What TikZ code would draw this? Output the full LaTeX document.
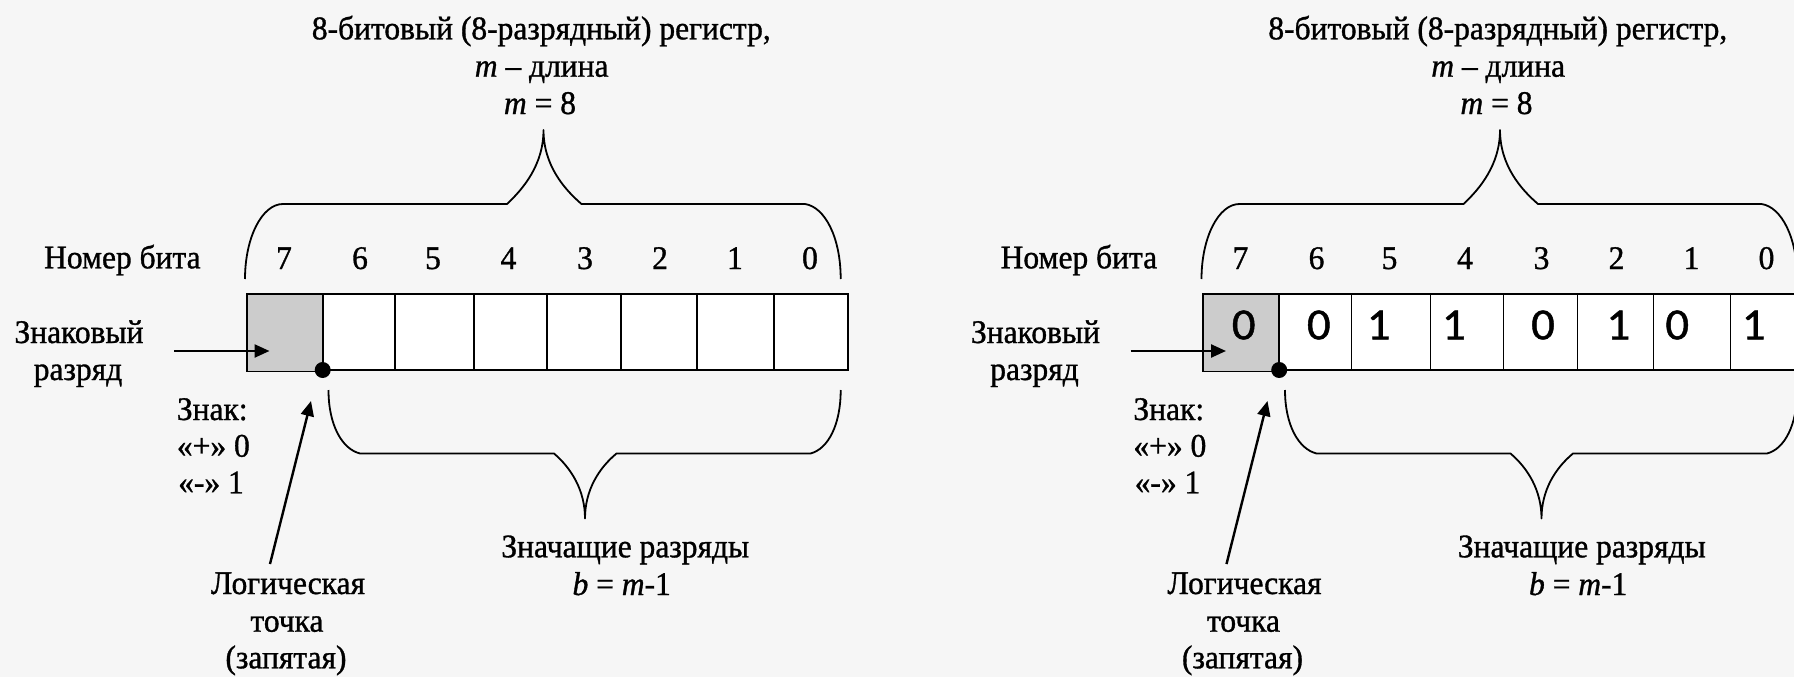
\documentclass[tikz,border=0pt]{standalone}
\usepackage{fontspec}
\setmainfont[FakeBold=1,FakeStretch=0.955]{Liberation Serif}
\newfontfamily\digitfont[FakeStretch=1.05,FakeBold=1]{Carlito}
\usetikzlibrary{arrows.meta}
\definecolor{bgpaper}{RGB}{246,246,246}
\definecolor{signfill}{RGB}{204,204,204}

\tikzset{
  lbl/.style={anchor=base, inner sep=0pt, font=\fontsize{33}{38}\selectfont},
  lblw/.style={lbl, anchor=base west},
  cellbox/.style={draw, line width=1.8pt, fill=white},
  signbox/.style={draw, line width=1.8pt, fill=signfill},
  brace/.style={line width=1.8pt, line join=round},
  pointer/.style={line width=2.4pt, -{Triangle[length=15pt,width=13pt]}},
  dotmark/.style={circle, fill=black, inner sep=0pt, minimum size=16pt},
  bitval/.style={anchor=base, inner sep=0pt, font=\digitfont\fontsize{44.5}{52}\selectfont},
}

% One complete register figure; #1 is the prefix of its node names
\newcommand\regdiagram[1]{%
  % heading
  \node[lbl] (#1t1) at (541.3,39.3) {8-битовый (8-разрядный) регистр,};
  \node[lbl] (#1t2) at (541.7,76.7) {\textit{m} – длина};
  \node[lbl] (#1t3) at (540,114) {\textit{m} = 8};
  % upper brace over the whole register
  \draw[brace] (245,279) .. controls (245,237.6) and (262,204) .. (283,204)
     -- (507,204) .. controls (523,189) and (543.5,165) .. (543.5,130)
     .. controls (543.5,165) and (564,189) .. (581.5,204)
     -- (805,204) .. controls (825,207) and (840.7,237.6) .. (840.7,279);
  % bit numbers
  \node[lbl] (#1bitno) at (122.4,268.3) {Номер бита};
  \foreach \n/\x in {7/284,6/360,5/433,4/508.5,3/585,2/660,1/735,0/810}
    \node[lbl] (#1b\n) at (\x,269) {\n};
  % register cells
  \path[signbox] (246.7,294) rectangle (322.7,371.5);
  \foreach \a/\b in {322.7/395,395/474,474/547,547/621,621/697,697/774,774/848}
    \path[cellbox] (\a,294) rectangle (\b,370);
  \node[dotmark] (#1pt) at (322.7,370) {};
  % sign bit
  \node[lbl] (#1sg1) at (79,343) {Знаковый};
  \node[lbl] (#1sg2) at (78,380) {разряд};
  \coordinate (#1sgTail) at (174,351);
  \coordinate (#1sgTip) at (269.5,351);
  \draw[pointer] (#1sgTail) -- (#1sgTip);
  \node[lblw] (#1k1) at (176.7,420) {Знак:};
  \node[lblw] (#1k2) at (176.7,456.7) {«+» 0};
  \node[lblw] (#1k3) at (178,493.3) {«-» 1};
  % logical point
  \node[lbl] (#1lp1) at (288,594) {Логическая};
  \node[lbl] (#1lp2) at (287,631.7) {точка};
  \node[lbl] (#1lp3) at (286,668.3) {(запятая)};
  \coordinate (#1lpTail) at (270,564);
  \coordinate (#1lpTip) at (311,401);
  \draw[pointer] (#1lpTail) -- (#1lpTip);
  % lower brace over the significant bits
  \draw[brace] (328.5,390) .. controls (328.5,425) and (342,449) .. (360,453.5)
     -- (554,453.5) .. controls (571,468) and (585,490) .. (585,518.5)
     .. controls (585,490) and (599,468) .. (616.5,453.5)
     -- (810.5,453.5) .. controls (828,449) and (840.7,425) .. (840.7,390);
  \node[lbl] (#1sv1) at (625.3,557.3) {Значащие разряды};
  \node[lbl] (#1sv2) at (621.7,595) {\textit{b} = \textit{m}-1};
}

\begin{document}
\begin{tikzpicture}[x=1pt,y=-1pt]
  \useasboundingbox (0,0) rectangle (1794,677);
  \fill[bgpaper] (0,0) rectangle (1794,677);
  \clip (0,0) rectangle (1794,677);

  \regdiagram{L}

  \begin{scope}[xshift=956.5pt]
    \regdiagram{R}
    \foreach \n/\x/\v in {7/287.2/0,6/362.3/0,5/422.2/1,4/497.3/1,3/586.5/0,2/661.8/1,1/720.7/0,0/797.2/1}
      \node[bitval] (Rv\n) at (\x,339.3) {\v};
  \end{scope}
\end{tikzpicture}
\end{document}
